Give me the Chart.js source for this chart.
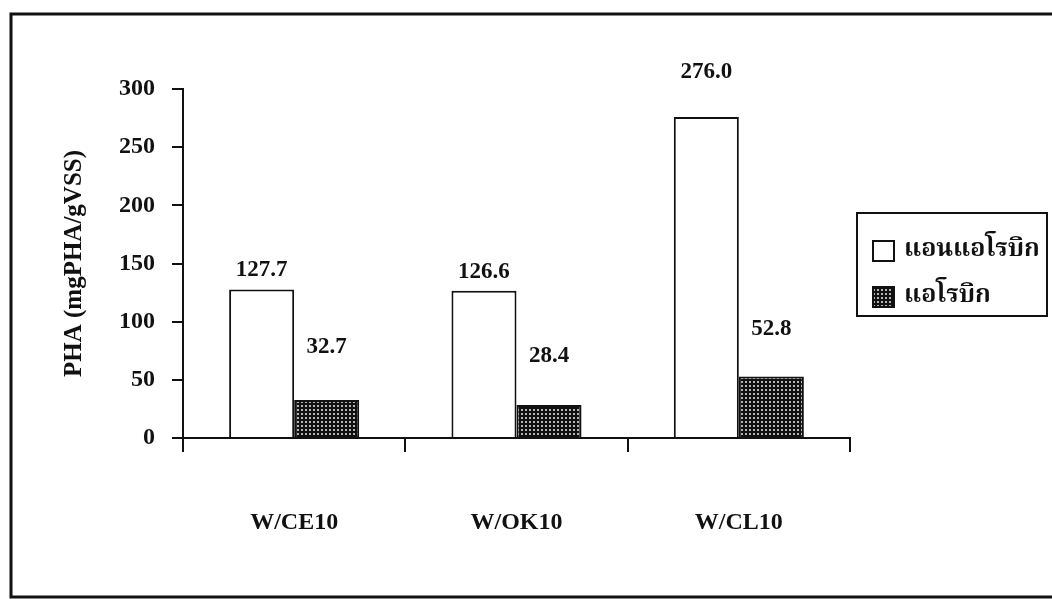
<!DOCTYPE html>
<html>
<head>
<meta charset="utf-8">
<script src="https://cdn.jsdelivr.net/npm/chart.js@4/dist/chart.umd.min.js"></script>
<style>
  html, body { margin: 0; padding: 0; background: #fff; }
  #wrap { width: 1052px; height: 599px; position: relative; }
</style>
</head>
<body>
<div id="wrap"><canvas id="c" width="1052" height="599"></canvas></div>
<script>
// PHA content per sludge, anaerobic vs aerobic phase
const categories = ['W/CE10', 'W/OK10', 'W/CL10'];
const seriesNames = ['แอนแอโรบิก', 'แอโรบิก'];
const anaerobic = [127.7, 126.6, 276.0];
const aerobic = [32.7, 28.4, 52.8];
const yTicks = [0, 50, 100, 150, 200, 250, 300];

// vertical gap (px) between each bar top and its value label
const labelGaps = [[19, 19, 45], [53, 49, 48]];

const serif = '"Liberation Serif", "Times New Roman", serif';
const thai = '"Noto Serif Thai", "Noto Sans Thai Looped", "Loma", "Norasi", "Garuda", "Noto Sans Thai", sans-serif';

// dark cross-hatch fill for the aerobic bars
function makeHatch() {
  const t = document.createElement('canvas');
  t.width = 4; t.height = 4;
  const g = t.getContext('2d');
  g.fillStyle = '#111';
  g.fillRect(0, 0, 4, 4);
  g.fillStyle = '#b4b4b4';
  g.fillRect(1, 1, 2, 2);
  return g.createPattern(t, 'repeat');
}
const ctx0 = document.getElementById('c').getContext('2d');
const hatch = makeHatch();

const framePlugin = {
  id: 'frame',
  beforeDraw(chart) {
    const c = chart.ctx;
    c.save();
    c.fillStyle = '#fff';
    c.fillRect(0, 0, chart.width, chart.height);
    c.strokeStyle = '#111';
    c.lineWidth = 3;
    c.strokeRect(11, 14, 1060, 583);
    c.restore();
  }
};

const valueLabels = {
  id: 'valueLabels',
  afterDatasetsDraw(chart) {
    const c = chart.ctx;
    c.save();
    c.fillStyle = '#111';
    c.font = 'bold 23px ' + serif;
    c.textAlign = 'center';
    c.textBaseline = 'middle';
    chart.data.datasets.forEach((ds, di) => {
      chart.getDatasetMeta(di).data.forEach((bar, i) => {
        c.fillText(ds.data[i].toFixed(1), bar.x, bar.y - labelGaps[di][i]);
      });
    });
    c.restore();
  }
};

const boxLegend = {
  id: 'boxLegend',
  afterDraw(chart) {
    const c = chart.ctx;
    c.save();
    c.strokeStyle = '#111';
    c.lineWidth = 2;
    c.strokeRect(857, 213, 190, 103);
    const rows = [251, 297];
    chart.data.datasets.forEach((ds, di) => {
      const y = rows[di];
      c.fillStyle = ds.backgroundColor;
      c.fillRect(873, y - 10, 21, 20);
      c.lineWidth = 2;
      c.strokeStyle = '#111';
      c.strokeRect(873, y - 10, 21, 20);
      c.fillStyle = '#111';
      c.font = 'bold 25px ' + thai;
      c.textAlign = 'left';
      c.textBaseline = 'middle';
      c.fillText(ds.label, 904, y + 1);
    });
    c.restore();
  }
};

new Chart(ctx0, {
  type: 'bar',
  data: {
    labels: categories,
    datasets: [
      { label: seriesNames[0], data: anaerobic, backgroundColor: '#fff', borderColor: '#111', borderWidth: 2 },
      { label: seriesNames[1], data: aerobic, backgroundColor: hatch, borderColor: '#111', borderWidth: 2 }
    ]
  },
  options: {
    responsive: false,
    animation: false,
    events: [],
    categoryPercentage: 0.585,
    barPercentage: 1.0,
    layout: { padding: { left: 0, top: 89, right: 202, bottom: 0 } },
    plugins: { legend: { display: false }, tooltip: { enabled: false } },
    scales: {
      x: {
        afterFit(s) { s.height = 161; },
        grid: { display: true, drawOnChartArea: false, drawTicks: true, tickLength: 14, color: '#111', lineWidth: 2, offset: true },
        border: { display: true, color: '#111', width: 2 },
        ticks: { color: '#111', font: { family: serif, size: 24, weight: 'bold' }, padding: 56 }
      },
      y: {
        min: 0, max: 300,
        afterFit(s) { s.width = 183; },
        afterBuildTicks(s) { s.ticks = yTicks.map(v => ({ value: v })); },
        grid: { display: true, drawOnChartArea: false, drawTicks: true, tickLength: 11, color: '#111', lineWidth: 2 },
        border: { display: true, color: '#111', width: 2 },
        ticks: { color: '#111', font: { family: serif, size: 24, weight: 'bold' }, padding: 17 },
        title: {
          display: true,
          text: 'PHA (mgPHA/gVSS)',
          color: '#111',
          font: { family: serif, size: 25, weight: 'bold' },
          padding: { top: 60, bottom: 0 }
        }
      }
    }
  },
  plugins: [framePlugin, valueLabels, boxLegend]
});
</script>
</body>
</html>
